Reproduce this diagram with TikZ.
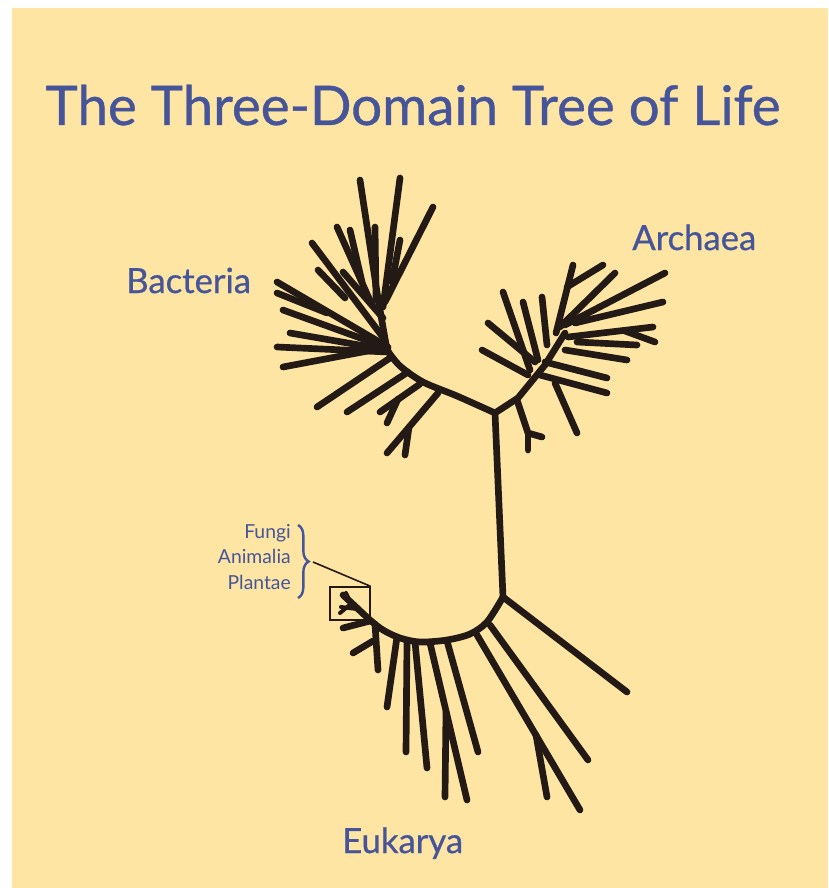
\documentclass[tikz,border=0pt]{standalone}
\usepackage{fontspec}
\setmainfont{Lato}
\newfontfamily\heavylato{Lato}[FakeBold=0.7]
\usetikzlibrary{decorations.pathreplacing}
\definecolor{bgyellow}{HTML}{FEE5A3}
\definecolor{inkblue}{HTML}{46559A}
\definecolor{treeink}{HTML}{231A15}
\tikzset{
  br/.style={line width=5pt, line cap=round, line join=round, color=treeink},
  domainlabel/.style={text=inkblue, font=\heavylato\fontsize{26}{30}\selectfont, inner sep=0pt},
  kingdom/.style={text=inkblue, font=\fontsize{14.5}{17}\selectfont, inner sep=0pt, anchor=base east},
}
\begin{document}
\begin{tikzpicture}[x=0.75pt, y=-0.75pt]
\useasboundingbox (0,0) rectangle (828,888);
\fill[white] (0,0) rectangle (828,888);
\fill[bgyellow] (12,8) rectangle (828,888);

% title
\node[text=inkblue, font=\heavylato\fontsize{41}{48}\selectfont, anchor=base, inner sep=0pt] (title) at (413,125) {The Three-Domain Tree of Life};

% labels
\node[domainlabel, anchor=base west] (bact) at (126,293) {Bacteria};
\node[domainlabel, anchor=base west] (arch) at (632,250) {Archaea};
\node[domainlabel, anchor=base west] (euk) at (342,853) {Eukarya};

% trunk
\draw[br] (495,413) -- (503,597);

% ---------- Bacteria ----------
\draw[br] plot[smooth] coordinates {(495,413) (457,396) (423,382) (400,366) (387,350)} -- (380,310);
% upper fan
\draw[br] (380,312) -- (360,180);
\draw[br] (383,307) -- (400,178);
\draw[br] (385,302) -- (433,207);
\draw[br] (376,300) -- (375,227);
\draw[br] (392,282) -- (400,240);
\draw[br] (372,305) -- (337,227);
\draw[br] (362,282) -- (350,230);
\draw[br] (385,340) -- (312,243);
\draw[br] (345,298) -- (318,270);
\draw[br] (383,318) -- (343,272);
% left fan
\draw[br] (388,347) -- (277,282);
\draw[br] (327,313) -- (277,293);
\draw[br] (388,348) -- (283,310);
\draw[br] (388,350) -- (290,333);
\draw[br] (388,352) -- (277,347);
\draw[br] (373,350) -- (283,367);
% lower fan
\draw[br] (390,358) -- (317,407);
\draw[br] (408,372) -- (347,412);
\draw[br] (420,384) -- (380,412);
\draw[br] (398,399) -- (387,423);
\draw[br] (438,393) -- (387,453);
\draw[br] (409,427) -- (405,455);

% ---------- Archaea ----------
\draw[br] (495,413) -- (518,398) -- (545,365) -- (565,333);
\draw[br] (556,333) -- (573,265);
\draw[br] (567,287) -- (603,265);
\draw[br] (560,327) -- (615,273);
\draw[br] (565,325) -- (665,273);
\draw[br] (575,323) -- (663,302);
\draw[br] (568,337) -- (653,327);
\draw[br] (625,331) -- (655,342);
\draw[br] (577,342) -- (637,345);
\draw[br] (565,350) -- (627,360);
\draw[br] (545,362) -- (607,378);
\draw[br] (540,375) -- (607,393);
\draw[br] (555,383) -- (577,433);
\draw[br] (530,370) -- (503,292);
\draw[br] (538,360) -- (523,302);
\draw[br] (547,345) -- (542,297);
\draw[br] (535,362) -- (488,323);
\draw[br] (528,375) -- (482,350);
\draw[br] (517,400) -- (528,433) -- (542,437);
\draw[br] (528,433) -- (528,450);

% ---------- Eukarya ----------
\draw[br] plot[smooth] coordinates {(503,597) (487,622) (470,634) (447,640) (420,642) (400,638) (383,630) (370,620) (356,607) (343,595)};
\draw[br] (503,597) -- (627,692);
\draw[br] (490,625) -- (588,760);
\draw[br] (477,635) -- (580,810);
\draw[br] (536,735) -- (547,797);
\draw[br] (447,641) -- (478,752);
\draw[br] (430,643) -- (467,800);
\draw[br] (446,712) -- (445,797);
\draw[br] (415,642) -- (427,768);
\draw[br] (407,641) -- (406,752);
\draw[br] (397,637) -- (387,707);
\draw[br] (375,624) -- (378,670);
\draw[br] (373,641) -- (353,653);
\draw[br] (370,621) -- (343,628);
\draw[br, line width=3pt] (357,609) -- (341,607);
\draw[br, line width=3pt] (352,603) -- (340,613);
\draw[br, line width=3pt] (350,601) -- (346,593);

% inset box and callout
\node[draw=treeink, line width=1pt, minimum width=30pt, minimum height=24.75pt, inner sep=0pt] (inset) at (350,603.5) {};
\coordinate (bracetip) at (313,562);
\draw[treeink, line width=1.2pt] (bracetip) -- (inset.north east);

\node[kingdom] (fungi) at (291,538) {Fungi};
\node[kingdom] (anim) at (291,563) {Animalia};
\node[kingdom] (plant) at (291,589) {Plantae};
\draw[inkblue, line width=1.8pt, decoration={brace,amplitude=8pt}, decorate] (298,525) -- (298,598);
\end{tikzpicture}
\end{document}
